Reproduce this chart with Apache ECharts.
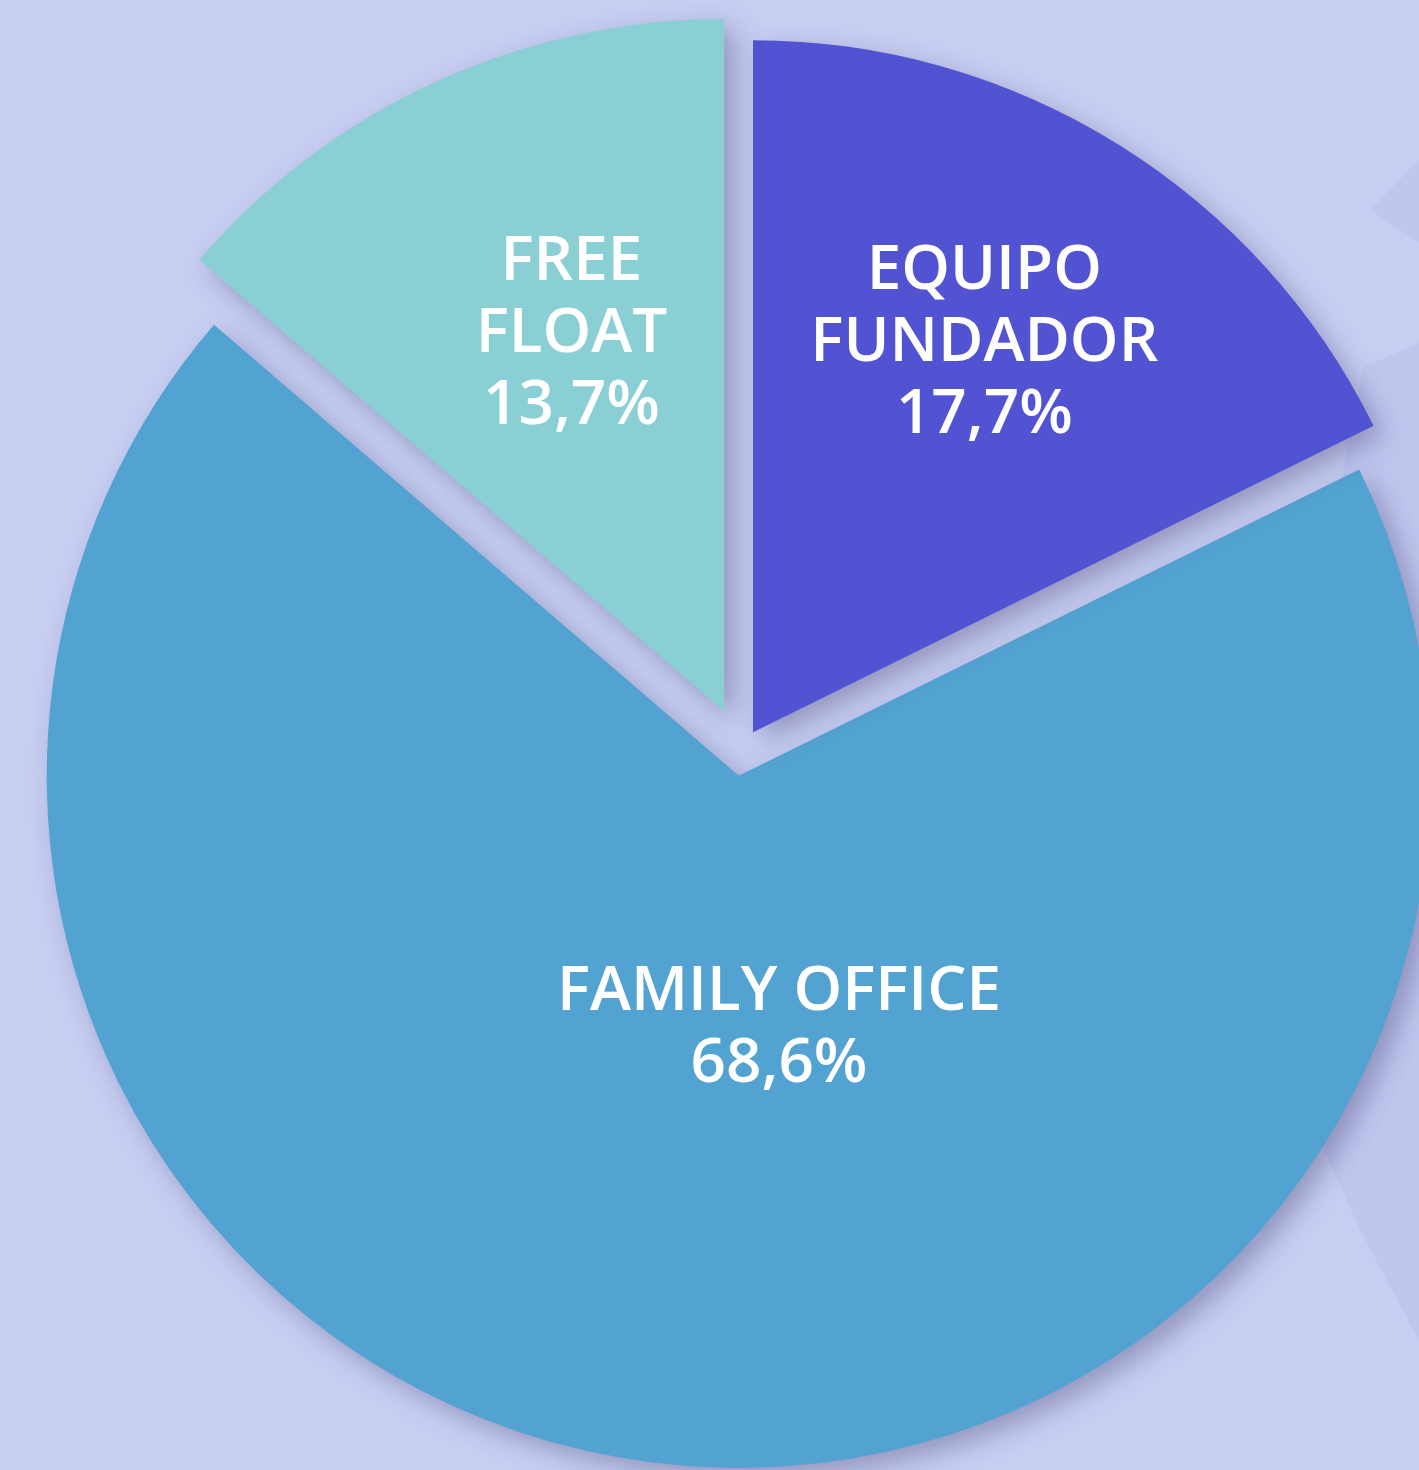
<!DOCTYPE html>
<html lang="es">
<head>
    <meta charset="utf-8">
    <title>Accionariado</title>
    <style>
        html, body { margin: 0; padding: 0; background: #C8CEF2; }
        #main { width: 1419px; height: 1470px; }
    </style>
</head>
<body>
<div id="main"></div>
<script src="https://cdn.jsdelivr.net/npm/echarts@6/dist/echarts.min.js"></script>
<script type="text/javascript">
    // datos
    var categories = ['EQUIPO\nFUNDADOR', 'FAMILY OFFICE', 'FREE\nFLOAT'];
    var values = [17.7, 68.6, 13.7];
    var colors = ['#5253D3', '#52A2D2', '#89CFD4'];

    // cada porción va en su propia serie para poder separarla con su offset
    var offsets = [21, 26, 43];
    var labelShift = [[47, -92], [84, -94], [-7, -59]];

    var myChart = echarts.init(document.getElementById('main'));

    function fmt(v) {
        return v.toFixed(1).replace('.', ',') + '%';
    }

    var series = categories.map(function (c, i) {
        return {
            type: 'pie',
            center: [742, 750],
            radius: [0, 692],
            startAngle: 90,
            clockwise: true,
            selectedMode: 'multiple',
            selectedOffset: offsets[i],
            silent: true,
            z: 2 + (i === 1 ? 0 : 1),
            label: {
                show: false
            },
            labelLine: { show: false },
            labelLayout: { dx: labelShift[i][0], dy: labelShift[i][1] },
            emphasis: { disabled: true },
            data: values.map(function (v, j) {
                var on = j === i;
                return {
                    name: categories[j],
                    value: v,
                    selected: on,
                    itemStyle: on ? {
                        color: colors[j],
                        shadowBlur: 26,
                        shadowOffsetX: 10,
                        shadowOffsetY: 10,
                        shadowColor: 'rgba(60, 60, 110, 0.38)'
                    } : { color: 'rgba(0,0,0,0)' },
                    select: { itemStyle: on ? { color: colors[j] } : { color: 'rgba(0,0,0,0)' } },
                    label: {
                        show: on,
                        position: 'inside',
                        color: '#ffffff',
                        fontFamily: '"Open Sans", sans-serif',
                        fontWeight: 600,
                        fontSize: 62,
                        lineHeight: 72,
                        align: 'center',
                        formatter: function (p) {
                            return p.name + '\n' + fmt(p.value);
                        }
                    }
                };
            })
        };
    });

    myChart.setOption({
        backgroundColor: '#C8CEF2',
        animation: false,
        graphic: [
            {
                type: 'polygon',
                z: 0,
                shape: { points: [[1419, 160], [1370, 210], [1419, 242]] },
                style: { fill: '#C0C6EE' }
            },
            {
                type: 'polygon',
                z: 0,
                shape: { points: [[1419, 343], [1363, 367], [1300, 700], [1315, 1130], [1360, 1230], [1419, 1340]] },
                style: { fill: '#C0C6EE' }
            }
        ],
        series: series
    });
</script>
</body>
</html>
